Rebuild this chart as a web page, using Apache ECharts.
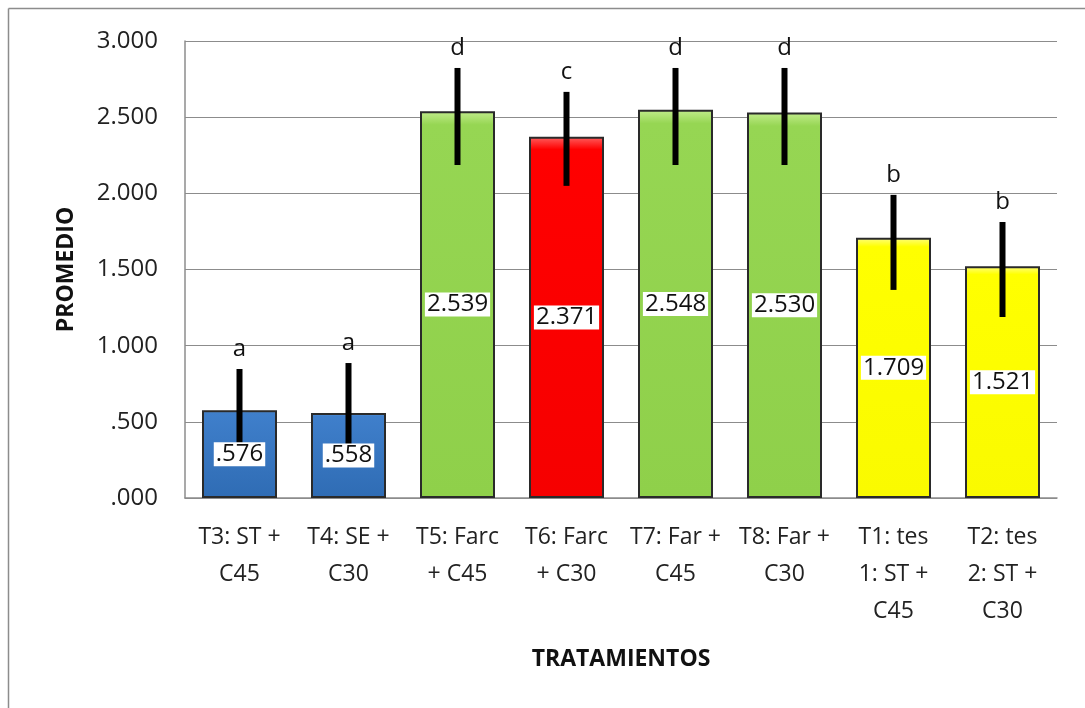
<!DOCTYPE html>
<html><head><meta charset="utf-8">
<script src="https://cdn.jsdelivr.net/npm/echarts@6/dist/echarts.min.js"></script>
<style>html,body{margin:0;padding:0;background:#fff}#c{width:1085px;height:708px}</style>
</head><body><div id="c"></div>
<script>
var categories = ["T3: ST +\nC45","T4: SE +\nC30","T5: Farc\n+ C45","T6: Farc\n+ C30","T7: Far +\nC45","T8: Far +\nC30","T1: tes\n1: ST +\nC45","T2: tes\n2: ST +\nC30"];
var values = [0.576,0.558,2.539,2.371,2.548,2.530,1.709,1.521];
var valueLabels = [".576",".558","2.539","2.371","2.548","2.530","1.709","1.521"];
var errLow = [0.23,0.25,2.186,2.049,2.186,2.186,1.366,1.188];
var errHigh = [0.847,0.886,2.823,2.666,2.823,2.823,1.99,1.812];
var letters = ["a","a","d","c","d","d","b","b"];
var yTickLabels = {0:".000",0.5:".500",1:"1.000",1.5:"1.500",2:"2.000",2.5:"2.500",3:"3.000"};
var groupColor = ["blue","blue","green","red","green","green","yellow","yellow"];

var palette = {
  blue: new echarts.graphic.LinearGradient(0,0,0,1,[{offset:0,color:'#6aa3e3'},{offset:0.035,color:'#3f7fcb'},{offset:1,color:'#2f6cb4'}]),
  green: new echarts.graphic.LinearGradient(0,0,0,1,[{offset:0,color:'#c2ec8c'},{offset:0.035,color:'#96d653'},{offset:1,color:'#8fd04a'}]),
  red: new echarts.graphic.LinearGradient(0,0,0,1,[{offset:0,color:'#ff6060'},{offset:0.035,color:'#ff0000'},{offset:1,color:'#f60000'}]),
  yellow: new echarts.graphic.LinearGradient(0,0,0,1,[{offset:0,color:'#ffff80'},{offset:0.035,color:'#ffff00'},{offset:1,color:'#fafa00'}])
};

var chart = echarts.init(document.getElementById('c'), null, {renderer:'canvas'});
var font = "'Open Sans', 'DejaVu Sans', sans-serif";
var option = {
  animation:false,
  backgroundColor:'#fff',
  graphic:[
    {type:'line', shape:{x1:8.5,y1:8.5,x2:1085,y2:8.5}, style:{stroke:'#8c8c8c',lineWidth:1.5}},
    {type:'line', shape:{x1:8.5,y1:8.5,x2:8.5,y2:708}, style:{stroke:'#8c8c8c',lineWidth:1.5}}
  ],
  grid:{left:185,right:28,top:41,bottom:210,containLabel:false},
  xAxis:{
    type:'category', data:categories,
    name:'TRATAMIENTOS', nameLocation:'middle', nameGap:150,
    nameTextStyle:{fontFamily:font,fontWeight:'bold',fontSize:23,color:'#111'},
    axisLine:{lineStyle:{color:'#8c8c8c',width:1.5}},
    axisTick:{show:false},
    axisLabel:{interval:0,fontFamily:font,fontSize:23,color:'#222',lineHeight:37,margin:21}
  },
  yAxis:{
    type:'value', min:0, max:3, interval:0.5,
    name:'PROMEDIO', nameLocation:'middle', nameGap:107, nameRotate:90,
    nameTextStyle:{fontFamily:font,fontWeight:'bold',fontSize:23,color:'#111'},
    axisLine:{show:true,lineStyle:{color:'#8c8c8c',width:1.5}},
    axisTick:{show:false},
    splitLine:{lineStyle:{color:'#8c8c8c',width:1.2}},
    axisLabel:{fontFamily:font,fontSize:24,color:'#222',margin:27,formatter:function(v){return yTickLabels[v]!==undefined?yTickLabels[v]:v;}}
  },
  series:[
    {
      type:'bar', barWidth:75, z:2,
      data: values.map(function(v,i){return {value:v,itemStyle:{color:palette[groupColor[i]],borderColor:'#2a2a2a',borderWidth:2}};})
    },
    {
      type:'custom', z:5,
      data: errLow.map(function(l,i){return [i,l,errHigh[i],values[i]];}),
      renderItem:function(params,api){
        var i=api.value(0);
        var lo=api.coord([i,api.value(1)]);
        var hi=api.coord([i,api.value(2)]);
        var mid=api.coord([i,api.value(3)/2]);
        return {type:'group',children:[
          {type:'line',shape:{x1:lo[0],y1:lo[1],x2:hi[0],y2:hi[1]},style:{stroke:'#000',lineWidth:6}},
          {type:'text',x:hi[0],y:hi[1]-8,style:{text:letters[params.dataIndex],fill:'#111',font:'24px '+font,align:'center',verticalAlign:'bottom'}},
          {type:'text',x:mid[0],y:mid[1],style:{text:valueLabels[params.dataIndex],fill:'#111',font:'24px '+font,align:'center',verticalAlign:'middle',backgroundColor:'#fff',padding:[0,2,0,2]}}
        ]};
      }
    }
  ]
};
chart.setOption(option);
</script></body></html>
